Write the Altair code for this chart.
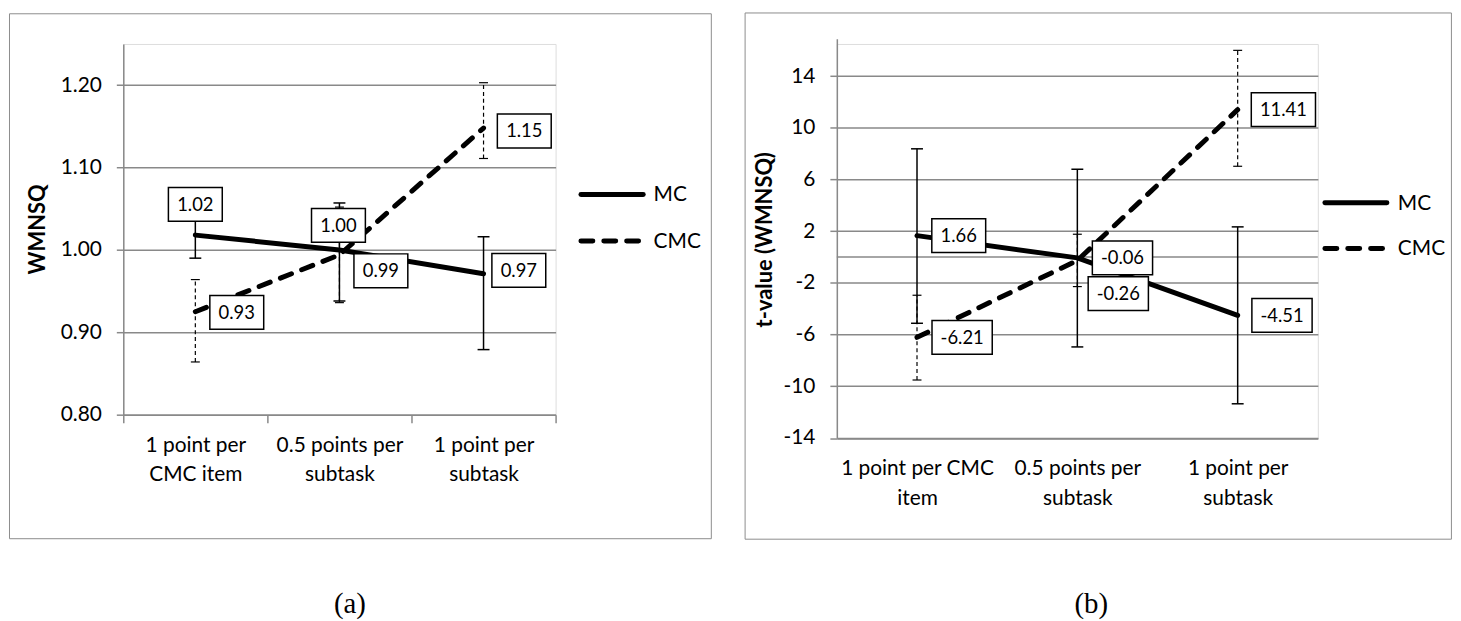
import json
import altair as alt
import pandas as pd

# ---------------- data ----------------
categories = ["1 point per CMC item", "0.5 points per subtask", "1 point per subtask"]
left_cat_lines = [["1 point per", "CMC item"], ["0.5 points per", "subtask"], ["1 point per", "subtask"]]
right_cat_lines = [["1 point per CMC", "item"], ["0.5 points per", "subtask"], ["1 point per", "subtask"]]

wmnsq_mc = [1.018, 1.000, 0.971]
wmnsq_mc_low = [0.990, 0.938, 0.879]
wmnsq_mc_high = [1.046, 1.057, 1.016]
wmnsq_cmc = [0.925, 0.994, 1.148]
wmnsq_cmc_low = [0.864, 0.936, 1.111]
wmnsq_cmc_high = [0.964, 1.052, 1.203]
wmnsq_ticks = [0.80, 0.90, 1.00, 1.10, 1.20]

t_mc = [1.66, -0.06, -4.51]
t_mc_low = [-5.12, -6.95, -11.35]
t_mc_high = [8.38, 6.80, 2.34]
t_cmc = [-6.21, -0.26, 11.41]
t_cmc_low = [-9.51, -2.28, 7.03]
t_cmc_high = [-2.95, 1.77, 16.00]
t_ticks = [-14, -10, -6, -2, 2, 6, 10, 14]

series_names = ["MC", "CMC"]
panel_tags = ["(a)", "(b)"]

# ---------------- styling ----------------
GRAY = "#898989"
FRAME = "#8c8c8c"
FONT = "Lato"
BOX_H = 34


def box_width(s):
    em = sum(0.507 if ch.isdigit() else 0.252 if ch == "." else 0.306 for ch in s)
    return 17.5 + em * 20.7


def box_path(w, h):
    a, b = w / 2, h / 2
    return f"M{-a:.1f},{-b:.1f}L{a:.1f},{-b:.1f}L{a:.1f},{b:.1f}L{-a:.1f},{b:.1f}Z"


def build_panel(mc, mc_lo, mc_hi, cmc, cmc_lo, cmc_hi, cat_lines, W, H, ydomain, yrange,
                yticks, ylabel_expr, ytitle, title_xy, xticks, xlabel_pad, offsets, frame,
                legend, tag, tag_pos, zero_line):
    rows = []
    for s, v, lo, hi in [("MC", mc, mc_lo, mc_hi), ("CMC", cmc, cmc_lo, cmc_hi)]:
        for i, c in enumerate(categories):
            rows.append(dict(cat=c, idx=i, series=s, val=v[i], lo=lo[i], hi=hi[i],
                             label=f"{v[i]:.2f}"))
    df = pd.DataFrame(rows)

    xscale = alt.Scale(type="band", domain=categories, paddingInner=0, paddingOuter=0)
    yscale = alt.Scale(domain=ydomain, nice=False, zero=False, range=yrange)

    lx = ""
    for c, lines in zip(categories, cat_lines):
        lx += f"datum.value == {json.dumps(c)} ? {json.dumps(lines)} : "
    lx += "datum.label"

    xaxis = alt.Axis(title=None, labelExpr=lx, labelAngle=0, labelFont=FONT,
                     labelFontSize=21, labelColor="black", labelLineHeight=29.6,
                     labelPadding=xlabel_pad, ticks=xticks, tickBand="extent",
                     tickSize=8 if xticks else 0, tickColor=GRAY, tickWidth=1.5,
                     domainColor=GRAY, domainWidth=1.5, grid=False)
    yaxis = alt.Axis(title=ytitle, values=yticks, labelExpr=ylabel_expr, labelFont=FONT,
                     labelFontSize=21, labelColor="black", labelPadding=15, tickSize=7,
                     tickColor=GRAY, tickWidth=1.5, domainColor=GRAY, domainWidth=1.5,
                     grid=True, gridColor=GRAY, gridWidth=1.5, titleFont=FONT,
                     titleFontSize=22, titleFontWeight="bold", titleColor="black",
                     titleX=title_xy[0], titleY=title_xy[1], titleBaseline="middle",
                     titleAlign="center")

    base = alt.Chart(df)
    X = alt.X("cat:N", scale=xscale, axis=xaxis)

    def Y(field):
        return alt.Y(field, scale=yscale, axis=yaxis)

    layers = []

    # frame
    fx1, fx2, fy1, fy2 = frame
    layers.append(
        alt.Chart(pd.DataFrame({"a": [0]})).mark_rect(fillOpacity=0, stroke=FRAME, strokeWidth=1)
        .encode(x=alt.value(fx1), x2=alt.value(fx2), y=alt.value(fy1), y2=alt.value(fy2))
    )
    if zero_line:
        layers.append(
            alt.Chart(pd.DataFrame({"z": [0]})).mark_rule(color=GRAY, strokeWidth=1.5)
            .encode(y=Y("z:Q"), x=alt.value(0), x2=alt.value(W))
        )

    # error bars
    for s, sw, dash, cap in [("MC", 1.5, None, 12), ("CMC", 1.2, [4, 3], 9)]:
        kw = dict(color="black", strokeWidth=sw)
        if dash:
            kw["strokeDash"] = dash
        layers.append(
            base.transform_filter(f"datum.series == '{s}'").mark_rule(**kw)
            .encode(x=X, y=Y("lo:Q"), y2="hi:Q")
        )
        layers.append(
            base.transform_filter(f"datum.series == '{s}'")
            .transform_fold(["lo", "hi"], as_=["end", "endval"])
            .mark_tick(color="black", thickness=sw, size=cap, opacity=1)
            .encode(x=X, y=Y("endval:Q"))
        )

    # main lines
    for s in series_names:
        kw = dict(color="black", strokeWidth=5, strokeCap="round", strokeJoin="round")
        if s == "CMC":
            kw["strokeDash"] = [12, 11]
        layers.append(
            base.transform_filter(f"datum.series == '{s}'").mark_line(**kw)
            .encode(x=X, y=Y("val:Q"), order=alt.Order("idx:Q"))
        )

    # data labels in boxes
    for (s, i), (dx, dy) in offsets.items():
        txt = f"{(mc if s == 'MC' else cmc)[i]:.2f}"
        w = box_width(txt)
        sub = base.transform_filter(f"datum.series == '{s}' && datum.idx == {i}")
        layers.append(
            sub.mark_point(shape=box_path(w, BOX_H), size=4, filled=True, fill="white",
                           stroke="black", strokeWidth=1.5, opacity=1, xOffset=dx, yOffset=dy)
            .encode(x=X, y=Y("val:Q"))
        )
        layers.append(
            sub.mark_text(font=FONT, fontSize=18.5, color="black", align="center",
                          baseline="middle", xOffset=dx, yOffset=dy + 0.5)
            .encode(x=X, y=Y("val:Q"), text="label:N")
        )

    # legend
    one = pd.DataFrame({"a": [0]})
    (lx1, lx2, ltx, ly_mc, ly_cmc) = legend
    for s, ly in [("MC", ly_mc), ("CMC", ly_cmc)]:
        kw = dict(color="black", strokeWidth=5, strokeCap="round")
        if s == "CMC":
            kw["strokeDash"] = [12, 11]
        layers.append(
            alt.Chart(one).mark_rule(**kw)
            .encode(x=alt.value(lx1), x2=alt.value(lx2), y=alt.value(ly))
        )
        layers.append(
            alt.Chart(one).mark_text(font=FONT, fontSize=21, color="black", align="left",
                                     baseline="middle")
            .encode(x=alt.value(ltx), y=alt.value(ly + 1), text=alt.value(s))
        )

    # panel tag
    layers.append(
        alt.Chart(one).mark_text(font="Liberation Serif", fontSize=29, color="black",
                                 align="center", baseline="middle")
        .encode(x=alt.value(tag_pos[0]), y=alt.value(tag_pos[1]), text=alt.value(tag))
    )

    return alt.layer(*layers).properties(width=W, height=H)


# left panel (plot origin at page ~ (123, 40.2))
LW, LH = 435, 373
left_offsets = {
    ("MC", 0): (0, -31), ("MC", 1): (-1, -24.7), ("MC", 2): (35.5, -3.5),
    ("CMC", 0): (41.7, 0.7), ("CMC", 1): (41.7, 16), ("CMC", 2): (41, 3),
}
left = build_panel(
    wmnsq_mc, wmnsq_mc_low, wmnsq_mc_high, wmnsq_cmc, wmnsq_cmc_low, wmnsq_cmc_high,
    left_cat_lines, LW, LH, [0.8, 1.25], [LH, 0], wmnsq_ticks, "format(datum.value, '.2f')",
    "WMNSQ", (-86, 186), True, 12, left_offsets,
    (-114.5, 591.7, -30.4, 497.8),
    (460.5, 523.2, 533.6, 151.4, 198.3),
    panel_tags[0], (228, 564), False,
)

# right panel (plot origin at page ~ (839, 40.2); axis extends 5.3px above it)
RW, RH = 484, 396.5
right_offsets = {
    ("MC", 0): (42, 0), ("MC", 1): (45.4, 0), ("MC", 2): (44.6, 0),
    ("CMC", 0): (45.4, 0), ("CMC", 1): (41.2, 33.4), ("CMC", 2): (46, 0),
}
right = build_panel(
    t_mc, t_mc_low, t_mc_high, t_cmc, t_cmc_low, t_cmc_high,
    right_cat_lines, RW, RH, [-14, 16.9], [RH, -5.3], t_ticks, "'' + datum.value",
    "t-value (WMNSQ)", (-73, 196.5), False, 20, right_offsets,
    (-92.3, 618.4, -31.2, 498.3),
    (491.1, 553.5, 564.5, 159.8, 205.7),
    panel_tags[1], (256, 564), True,
)

chart = (
    alt.hconcat(left, right, spacing=31)
    .properties(padding={"left": 0, "top": 1.3, "right": 0, "bottom": 0})
    .configure_view(strokeWidth=0, stroke="transparent")
    .configure(background="white")
)

chart.save("out.html", embed_options={"renderer": "svg", "actions": False})
